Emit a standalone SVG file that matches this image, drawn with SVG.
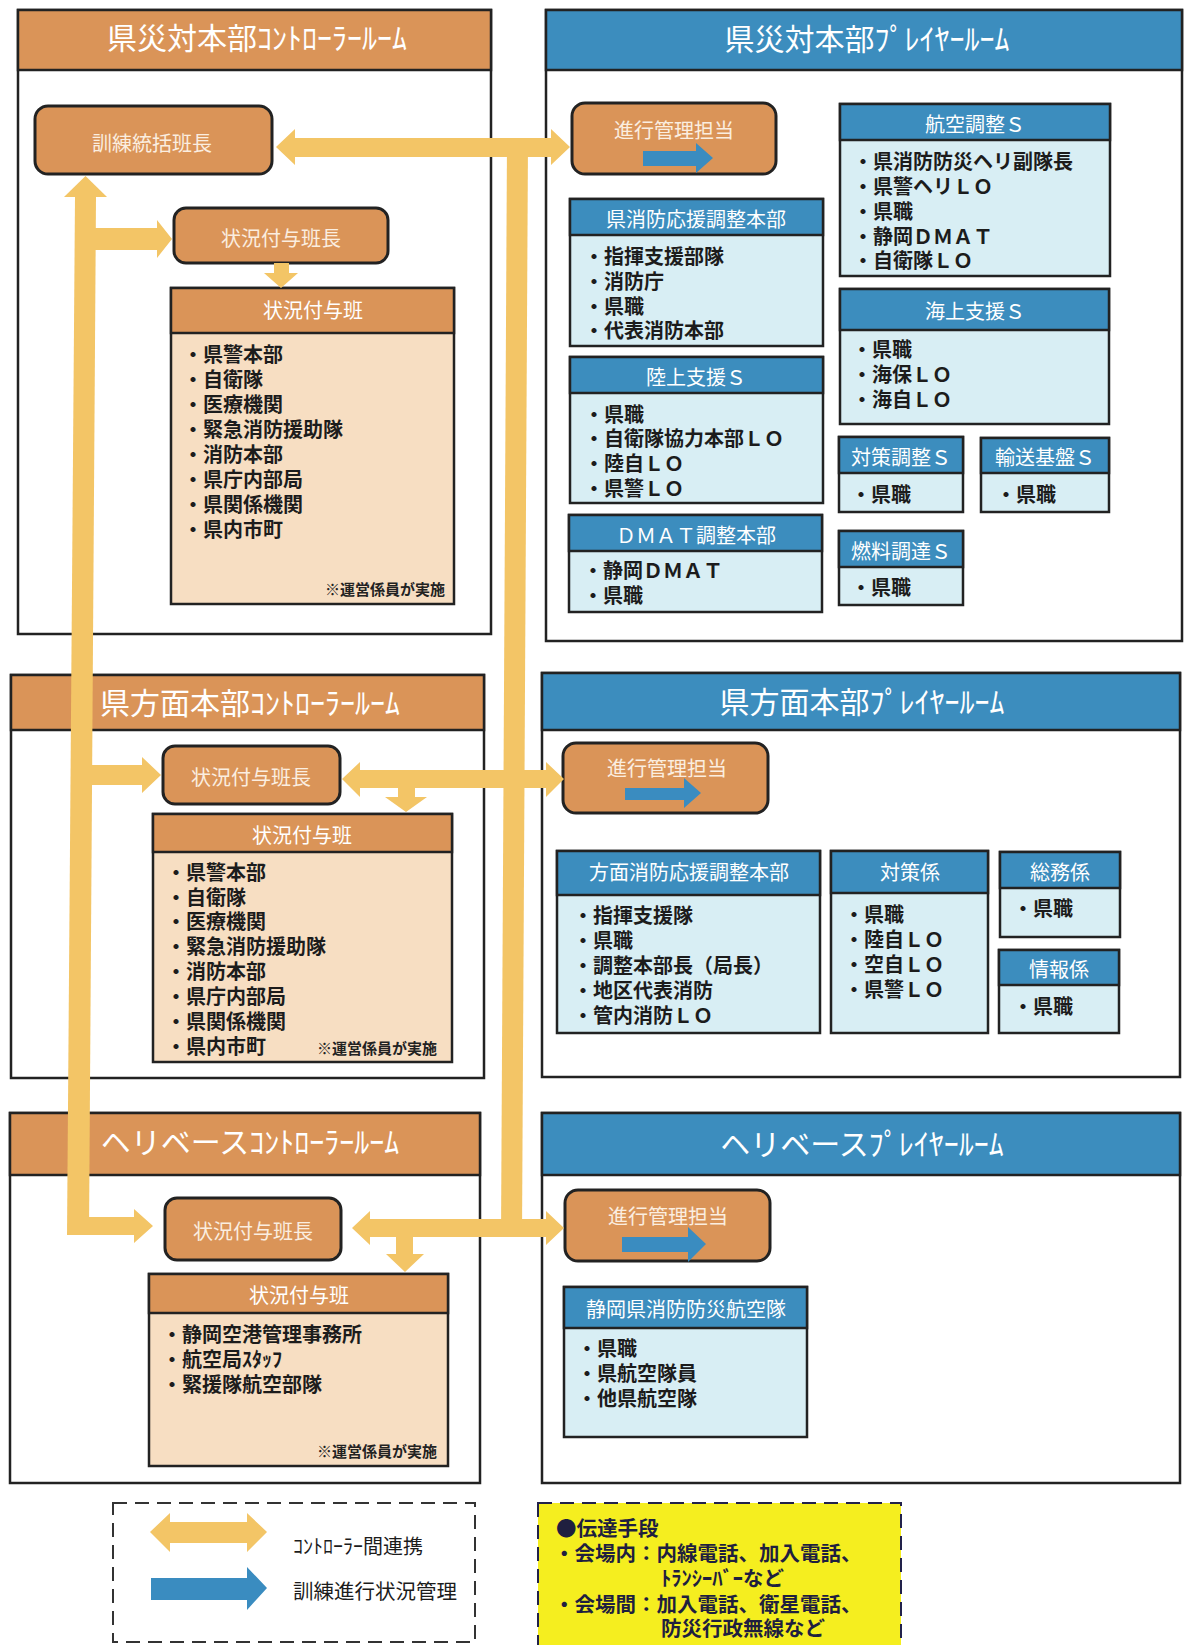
<svg xmlns="http://www.w3.org/2000/svg" width="1184" height="1645" viewBox="0 0 1184 1645">
<style>
text { font-family: "Noto Sans CJK JP", "Noto Sans", sans-serif; dominant-baseline: central; }
.title { font-size: 30px; fill: #ffffff; text-anchor: middle; }
.hd { font-size: 20px; fill: #ffffff; text-anchor: middle; }
.rt { font-size: 20px; fill: #fbeee0; text-anchor: middle; }
.it { font-size: 20px; fill: #1c1c1c; font-weight: 700; }
.note { font-size: 15px; fill: #222222; font-weight: 700; text-anchor: end; }
.panel { fill: #ffffff; stroke: #222222; stroke-width: 2.5; }
.phO { fill: #DA9458; stroke: #222222; stroke-width: 2.5; }
.phB { fill: #3C8DBE; stroke: #222222; stroke-width: 2.5; }
.rbox { fill: #DA9458; stroke: #222222; stroke-width: 3; }
.bodyO { fill: #F7DEC2; stroke: #222222; stroke-width: 2.5; }
.bodyB { fill: #D8EEF4; stroke: #222222; stroke-width: 2.5; }
.ya { fill: #F3C566; }
.ba { fill: #3A8CC0; }
.lg { font-size: 20px; fill: #1c1c1c; }
.yb { font-size: 20.5px; fill: #1f1f3f; font-weight: 700; }
</style>

<!-- Panels -->
<g id="panel-ken-controller">
  <rect class="panel" x="18" y="10" width="473" height="624"/>
  <rect class="phO" x="18" y="10" width="473" height="60"/>
  <text class="title" x="257" y="36">県災対本部ｺﾝﾄﾛｰﾗｰﾙｰﾑ</text>
</g>
<g id="panel-ken-player">
  <rect class="panel" x="546" y="10" width="636" height="631"/>
  <rect class="phB" x="546" y="10" width="636" height="60"/>
  <text class="title" x="867" y="37">県災対本部ﾌﾟﾚｲﾔｰﾙｰﾑ</text>
</g>
<g id="panel-homen-controller">
  <rect class="panel" x="11" y="675" width="473" height="403"/>
  <rect class="phO" x="11" y="675" width="473" height="55"/>
  <text class="title" x="250" y="701">県方面本部ｺﾝﾄﾛｰﾗｰﾙｰﾑ</text>
</g>
<g id="panel-homen-player">
  <rect class="panel" x="542" y="673" width="638" height="404"/>
  <rect class="phB" x="542" y="673" width="638" height="57"/>
  <text class="title" x="862" y="700">県方面本部ﾌﾟﾚｲﾔｰﾙｰﾑ</text>
</g>
<g id="panel-heli-controller">
  <rect class="panel" x="10" y="1113" width="470" height="370"/>
  <rect class="phO" x="10" y="1113" width="470" height="62"/>
  <text class="title" x="250" y="1140">ヘリベースｺﾝﾄﾛｰﾗｰﾙｰﾑ</text>
</g>
<g id="panel-heli-player">
  <rect class="panel" x="542" y="1113" width="638" height="370"/>
  <rect class="phB" x="542" y="1113" width="638" height="62"/>
  <text class="title" x="862" y="1142">ヘリベースﾌﾟﾚｲﾔｰﾙｰﾑ</text>
</g>

<!-- Top-left nodes -->
<g id="kunren-toukatsu">
  <rect class="rbox" x="35" y="106" width="237" height="68" rx="13"/>
  <text class="rt" x="152" y="142">訓練統括班長</text>
</g>
<g id="joukyou-hanchou-1">
  <rect class="rbox" x="174" y="208" width="214" height="55" rx="12"/>
  <text class="rt" x="281" y="237">状況付与班長</text>
</g>
<g id="joukyou-han-1">
  <rect class="bodyO" x="171" y="288" width="283" height="316"/>
  <rect class="phO" x="171" y="288" width="283" height="45"/>
  <text class="hd" x="313" y="309">状況付与班</text>
  <text class="it" x="183" y="353">・県警本部</text>
  <text class="it" x="183" y="378">・自衛隊</text>
  <text class="it" x="183" y="403">・医療機関</text>
  <text class="it" x="183" y="428">・緊急消防援助隊</text>
  <text class="it" x="183" y="453">・消防本部</text>
  <text class="it" x="183" y="478">・県庁内部局</text>
  <text class="it" x="183" y="503">・県関係機関</text>
  <text class="it" x="183" y="528">・県内市町</text>
  <text class="note" x="445" y="588">※運営係員が実施</text>
</g>

<!-- Top-right nodes -->
<g id="shinkou-1">
  <rect class="rbox" x="572" y="103" width="204" height="71" rx="13"/>
  <text class="rt" x="674" y="129">進行管理担当</text>
  <polygon class="ba" points="643,151 696,151 696,143 713,158 696,173 696,166 643,166"/>
</g>
<g id="ken-shoubou-ouen">
  <rect class="bodyB" x="570" y="199" width="253" height="147"/>
  <rect class="phB" x="570" y="199" width="253" height="36"/>
  <text class="hd" x="696" y="218">県消防応援調整本部</text>
  <text class="it" x="584" y="255">・指揮支援部隊</text>
  <text class="it" x="584" y="280">・消防庁</text>
  <text class="it" x="584" y="305">・県職</text>
  <text class="it" x="584" y="329">・代表消防本部</text>
</g>
<g id="koukuu-chousei">
  <rect class="bodyB" x="840" y="104" width="270" height="172"/>
  <rect class="phB" x="840" y="104" width="270" height="36"/>
  <text class="hd" x="975" y="123">航空調整Ｓ</text>
  <text class="it" x="853" y="160">・県消防防災ヘリ副隊長</text>
  <text class="it" x="853" y="185">・県警ヘリＬＯ</text>
  <text class="it" x="853" y="210">・県職</text>
  <text class="it" x="853" y="235">・静岡ＤＭＡＴ</text>
  <text class="it" x="853" y="259">・自衛隊ＬＯ</text>
</g>
<g id="kaijou-shien">
  <rect class="bodyB" x="840" y="289" width="269" height="135"/>
  <rect class="phB" x="840" y="289" width="269" height="41"/>
  <text class="hd" x="975" y="310">海上支援Ｓ</text>
  <text class="it" x="852" y="348">・県職</text>
  <text class="it" x="852" y="373">・海保ＬＯ</text>
  <text class="it" x="852" y="398">・海自ＬＯ</text>
</g>
<g id="rikujou-shien">
  <rect class="bodyB" x="570" y="357" width="253" height="146"/>
  <rect class="phB" x="570" y="357" width="253" height="36"/>
  <text class="hd" x="696" y="376">陸上支援Ｓ</text>
  <text class="it" x="584" y="413">・県職</text>
  <text class="it" x="584" y="437">・自衛隊協力本部ＬＯ</text>
  <text class="it" x="584" y="462">・陸自ＬＯ</text>
  <text class="it" x="584" y="487">・県警ＬＯ</text>
</g>
<g id="dmat-chousei">
  <rect class="bodyB" x="569" y="515" width="253" height="97"/>
  <rect class="phB" x="569" y="515" width="253" height="36"/>
  <text class="hd" x="696" y="534">ＤＭＡＴ調整本部</text>
  <text class="it" x="583" y="569">・静岡ＤＭＡＴ</text>
  <text class="it" x="583" y="594">・県職</text>
</g>
<g id="taisaku-chousei">
  <rect class="bodyB" x="839" y="437" width="124" height="75"/>
  <rect class="phB" x="839" y="437" width="124" height="36"/>
  <text class="hd" x="901" y="456">対策調整Ｓ</text>
  <text class="it" x="851" y="493">・県職</text>
</g>
<g id="yusou-kiban">
  <rect class="bodyB" x="981" y="438" width="128" height="74"/>
  <rect class="phB" x="981" y="438" width="128" height="35"/>
  <text class="hd" x="1045" y="456">輸送基盤Ｓ</text>
  <text class="it" x="996" y="493">・県職</text>
</g>
<g id="nenryou-choutatsu">
  <rect class="bodyB" x="839" y="531" width="124" height="74"/>
  <rect class="phB" x="839" y="531" width="124" height="36"/>
  <text class="hd" x="901" y="550">燃料調達Ｓ</text>
  <text class="it" x="851" y="586">・県職</text>
</g>

<!-- Middle-left nodes -->
<g id="joukyou-hanchou-2">
  <rect class="rbox" x="163" y="746" width="177" height="58" rx="12"/>
  <text class="rt" x="251" y="776">状況付与班長</text>
</g>
<g id="joukyou-han-2">
  <rect class="bodyO" x="153" y="814" width="299" height="248"/>
  <rect class="phO" x="153" y="814" width="299" height="38"/>
  <text class="hd" x="302" y="834">状況付与班</text>
  <text class="it" x="166" y="871">・県警本部</text>
  <text class="it" x="166" y="896">・自衛隊</text>
  <text class="it" x="166" y="920">・医療機関</text>
  <text class="it" x="166" y="945">・緊急消防援助隊</text>
  <text class="it" x="166" y="970">・消防本部</text>
  <text class="it" x="166" y="995">・県庁内部局</text>
  <text class="it" x="166" y="1020">・県関係機関</text>
  <text class="it" x="166" y="1045">・県内市町</text>
  <text class="note" x="437" y="1047">※運営係員が実施</text>
</g>

<!-- Middle-right nodes -->
<g id="shinkou-2">
  <rect class="rbox" x="563" y="743" width="205" height="70" rx="13"/>
  <text class="rt" x="667" y="767">進行管理担当</text>
  <polygon class="ba" points="625,788 684,788 684,778 701,793 684,808 684,800 625,800"/>
</g>
<g id="homen-shoubou-ouen">
  <rect class="bodyB" x="557" y="851" width="263" height="182"/>
  <rect class="phB" x="557" y="851" width="263" height="44"/>
  <text class="hd" x="689" y="871">方面消防応援調整本部</text>
  <text class="it" x="573" y="914">・指揮支援隊</text>
  <text class="it" x="573" y="939">・県職</text>
  <text class="it" x="573" y="964">・調整本部長（局長）</text>
  <text class="it" x="573" y="989">・地区代表消防</text>
  <text class="it" x="573" y="1014">・管内消防ＬＯ</text>
</g>
<g id="taisaku-kakari">
  <rect class="bodyB" x="831" y="851" width="157" height="182"/>
  <rect class="phB" x="831" y="851" width="157" height="42"/>
  <text class="hd" x="910" y="871">対策係</text>
  <text class="it" x="844" y="913">・県職</text>
  <text class="it" x="844" y="938">・陸自ＬＯ</text>
  <text class="it" x="844" y="963">・空自ＬＯ</text>
  <text class="it" x="844" y="988">・県警ＬＯ</text>
</g>
<g id="soumu-kakari">
  <rect class="bodyB" x="1000" y="852" width="120" height="85"/>
  <rect class="phB" x="1000" y="852" width="120" height="36"/>
  <text class="hd" x="1060" y="871">総務係</text>
  <text class="it" x="1013" y="907">・県職</text>
</g>
<g id="jouhou-kakari">
  <rect class="bodyB" x="999" y="950" width="120" height="83"/>
  <rect class="phB" x="999" y="950" width="120" height="35"/>
  <text class="hd" x="1059" y="968">情報係</text>
  <text class="it" x="1013" y="1005">・県職</text>
</g>

<!-- Bottom-left nodes -->
<g id="joukyou-hanchou-3">
  <rect class="rbox" x="165" y="1198" width="176" height="62" rx="12"/>
  <text class="rt" x="253" y="1230">状況付与班長</text>
</g>
<g id="joukyou-han-3">
  <rect class="bodyO" x="149" y="1274" width="299" height="192"/>
  <rect class="phO" x="149" y="1274" width="299" height="39"/>
  <text class="hd" x="299" y="1294">状況付与班</text>
  <text class="it" x="162" y="1333">・静岡空港管理事務所</text>
  <text class="it" x="162" y="1358">・航空局ｽﾀｯﾌ</text>
  <text class="it" x="162" y="1383">・緊援隊航空部隊</text>
  <text class="note" x="437" y="1450">※運営係員が実施</text>
</g>

<!-- Bottom-right nodes -->
<g id="shinkou-3">
  <rect class="rbox" x="565" y="1190" width="205" height="71" rx="13"/>
  <text class="rt" x="668" y="1215">進行管理担当</text>
  <polygon class="ba" points="622,1237 688,1237 688,1227 706,1244 688,1262 688,1252 622,1252"/>
</g>
<g id="shizuoka-koukuutai">
  <rect class="bodyB" x="564" y="1287" width="243" height="150"/>
  <rect class="phB" x="564" y="1287" width="243" height="41"/>
  <text class="hd" x="686" y="1308">静岡県消防防災航空隊</text>
  <text class="it" x="577" y="1347">・県職</text>
  <text class="it" x="577" y="1372">・県航空隊員</text>
  <text class="it" x="577" y="1397">・他県航空隊</text>
</g>

<!-- Connectors -->
<g id="connectors">
  <polygon class="ya" points="75,197 96,197 89,1235 67,1235"/>
  <polygon class="ya" points="64,197 107,197 85.5,176"/>
  <polygon class="ya" points="90,228 157,228 157,220 172,239 157,258 157,250 90,250"/>
  <polygon class="ya" points="86,765 142,765 142,757 161,775 142,793 142,785 86,785"/>
  <polygon class="ya" points="78,1217 134,1217 134,1209 153,1226 134,1243 134,1235 78,1235"/>
  <polygon class="ya" points="507,140 528,140 522,1237 501,1237"/>
  <polygon class="ya" points="276,147 295,129 295,138 551,138 551,129 570,147 551,165 551,157 295,157 295,165"/>
  <polygon class="ya" points="274,263 289,263 289,273 298,273 281,288 264,273 274,273"/>
  <polygon class="ya" points="342,779 360,762 360,770 546,770 546,762 564,779 546,797 546,788 360,788 360,797"/>
  <polygon class="ya" points="398,786 415,786 415,797 427,797 406,812 385,797 398,797"/>
  <polygon class="ya" points="352,1228 370,1211 370,1219 546,1219 546,1211 564,1228 546,1245 546,1237 370,1237 370,1245"/>
  <polygon class="ya" points="396,1235 413,1235 413,1254 424,1254 405,1272 386,1254 396,1254"/>
</g>

<!-- Legend -->
<g id="legend">
  <rect x="113" y="1503" width="362" height="139" fill="none" stroke="#333333" stroke-width="2" stroke-dasharray="14,8"/>
  <polygon class="ya" points="150,1532 170,1513 170,1522 247,1522 247,1513 267,1532 247,1552 247,1543 170,1543 170,1552"/>
  <text class="lg" x="293" y="1545">ｺﾝﾄﾛｰﾗｰ間連携</text>
  <polygon class="ba" points="151,1578 247,1578 247,1567 267,1588 247,1610 247,1600 151,1600"/>
  <text class="lg" x="293" y="1590" style="font-size:20.5px">訓練進行状況管理</text>
</g>
<g id="communication-box">
  <rect x="538" y="1503" width="363" height="150" fill="#F5EE1F" stroke="#22224a" stroke-width="2" stroke-dasharray="14,8"/>
  <text class="yb" x="556" y="1527">●伝達手段</text>
  <text class="yb" x="554" y="1552">・会場内：内線電話、加入電話、</text>
  <text class="yb" x="661" y="1577">ﾄﾗﾝｼｰﾊﾞｰなど</text>
  <text class="yb" x="554" y="1603">・会場間：加入電話、衛星電話、</text>
  <text class="yb" x="661" y="1627">防災行政無線など</text>
</g>
</svg>
